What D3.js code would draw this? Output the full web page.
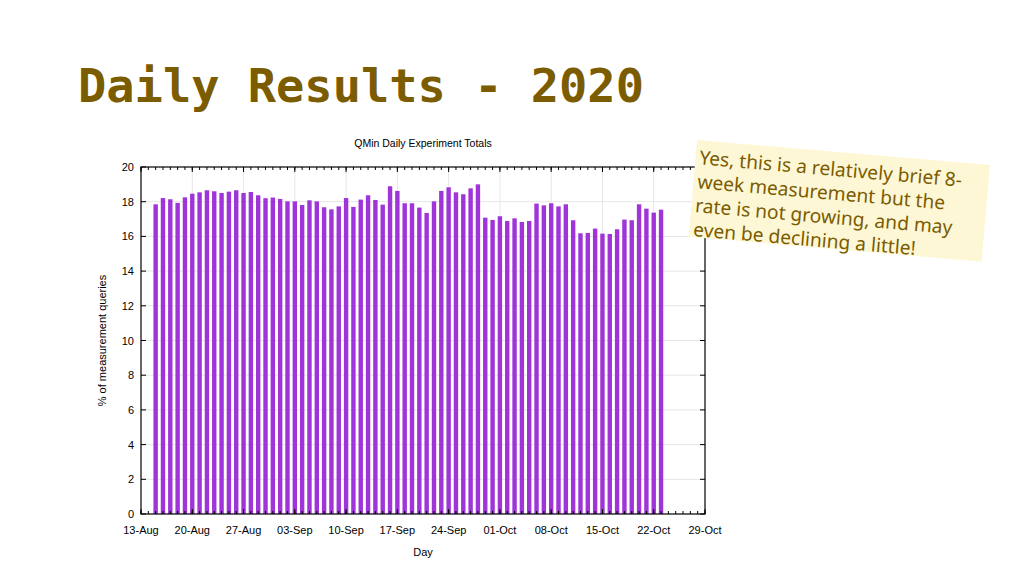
<!DOCTYPE html>
<html><head><meta charset="utf-8">
<script src="https://cdn.jsdelivr.net/npm/d3@7"></script>
<style>html,body{margin:0;padding:0;background:#fff;}svg{display:block;}</style>
</head><body>
<svg id="c" width="1024" height="575"></svg>
<script>
const days = [
"2020-08-15","2020-08-16","2020-08-17","2020-08-18","2020-08-19","2020-08-20","2020-08-21","2020-08-22","2020-08-23","2020-08-24",
"2020-08-25","2020-08-26","2020-08-27","2020-08-28","2020-08-29","2020-08-30","2020-08-31","2020-09-01","2020-09-02","2020-09-03",
"2020-09-04","2020-09-05","2020-09-06","2020-09-07","2020-09-08","2020-09-09","2020-09-10","2020-09-11","2020-09-12","2020-09-13",
"2020-09-14","2020-09-15","2020-09-16","2020-09-17","2020-09-18","2020-09-19","2020-09-20","2020-09-21","2020-09-22","2020-09-23",
"2020-09-24","2020-09-25","2020-09-26","2020-09-27","2020-09-28","2020-09-29","2020-09-30","2020-10-01","2020-10-02","2020-10-03",
"2020-10-04","2020-10-05","2020-10-06","2020-10-07","2020-10-08","2020-10-09","2020-10-10","2020-10-11","2020-10-12","2020-10-13",
"2020-10-14","2020-10-15","2020-10-16","2020-10-17","2020-10-18","2020-10-19","2020-10-20","2020-10-21","2020-10-22","2020-10-23"];
const values = [
17.85,18.21,18.14,17.93,18.25,18.46,18.54,18.66,18.60,18.50,
18.58,18.66,18.50,18.56,18.37,18.20,18.24,18.16,18.02,18.02,
17.81,18.08,18.02,17.68,17.56,17.73,18.21,17.70,18.12,18.37,
18.10,17.83,18.89,18.62,17.91,17.91,17.66,17.35,18.02,18.62,
18.83,18.54,18.43,18.77,19.00,17.08,16.95,17.16,16.89,17.04,
16.83,16.89,17.89,17.79,17.91,17.73,17.85,16.93,16.18,16.20,
16.45,16.16,16.14,16.41,16.97,16.93,17.85,17.60,17.37,17.54];
const xTickDates = ["2020-08-13","2020-08-20","2020-08-27","2020-09-03","2020-09-10","2020-09-17","2020-09-24","2020-10-01","2020-10-08","2020-10-15","2020-10-22","2020-10-29"];
const xTickLabels = ["13-Aug","20-Aug","27-Aug","03-Sep","10-Sep","17-Sep","24-Sep","01-Oct","08-Oct","15-Oct","22-Oct","29-Oct"];
const yTicks = [0,2,4,6,8,10,12,14,16,18,20];
const pageTitle = "Daily Results - 2020";
const chartTitle = "QMin Daily Experiment Totals";
const xLabel = "Day";
const yLabel = "% of measurement queries";
const noteLines = ["Yes, this is a relatively brief 8-","week measurement but the","rate is not growing, and may","even be declining a little!"];

const parse = d3.utcParse("%Y-%m-%d");
const svg = d3.select("#c");
const L = 141, R = 705, T = 167, B = 514;
const x = d3.scaleUtc().domain([parse(xTickDates[0]), parse(xTickDates[xTickDates.length-1])]).range([L, R]);
const y = d3.scaleLinear().domain([0, 20]).range([B, T]);
const font = "'Liberation Sans', Arial, sans-serif";
const purple = "#9f34d8";
const olive = "#7b5c00";

// page title
svg.append("text").attr("x", 78).attr("y", 102)
  .attr("font-family", "'DejaVu Sans Mono', monospace").attr("font-weight", "bold")
  .attr("font-size", 47).attr("fill", olive).text(pageTitle);

// grid
const grid = svg.append("g");
grid.selectAll("line.gy").data(yTicks.slice(1, -1)).join("line")
  .attr("x1", L).attr("x2", R).attr("y1", d => y(d)).attr("y2", d => y(d))
  .attr("stroke", "#e6e6e6").attr("stroke-width", 1);
grid.selectAll("line.gx").data(xTickDates.slice(1, -1)).join("line")
  .attr("x1", d => x(parse(d))).attr("x2", d => x(parse(d))).attr("y1", T).attr("y2", B)
  .attr("stroke", "#e6e6e6").attr("stroke-width", 1);

// bars
const dayW = x(parse("2020-08-14")) - x(parse("2020-08-13"));
const bw = dayW * 0.6;
svg.append("g").selectAll("rect").data(values).join("rect")
  .attr("x", (d, i) => x(parse(days[i])) - bw / 2)
  .attr("width", bw)
  .attr("y", d => y(d))
  .attr("height", d => y(0) - y(d))
  .attr("fill", purple);

// minor day ticks on top and bottom
const allDays = d3.utcDay.range(x.domain()[0], d3.utcDay.offset(x.domain()[1], 1));
const ax = svg.append("g").attr("stroke", "#000").attr("stroke-width", 1);
ax.selectAll("line.mt").data(allDays).join("line")
  .attr("x1", d => x(d)).attr("x2", d => x(d)).attr("y1", T).attr("y2", T + 3);
ax.selectAll("line.mb").data(allDays).join("line")
  .attr("x1", d => x(d)).attr("x2", d => x(d)).attr("y1", B).attr("y2", B - 3);
// major x ticks
ax.selectAll("line.Mt").data(xTickDates).join("line")
  .attr("x1", d => x(parse(d))).attr("x2", d => x(parse(d))).attr("y1", T).attr("y2", T + 5);
ax.selectAll("line.Mb").data(xTickDates).join("line")
  .attr("x1", d => x(parse(d))).attr("x2", d => x(parse(d))).attr("y1", B).attr("y2", B - 5);
// y ticks
ax.selectAll("line.yl").data(yTicks).join("line")
  .attr("x1", L).attr("x2", L + 5).attr("y1", d => y(d)).attr("y2", d => y(d));
ax.selectAll("line.yr").data(yTicks).join("line")
  .attr("x1", R).attr("x2", R - 5).attr("y1", d => y(d)).attr("y2", d => y(d));
// frame
svg.append("rect").attr("x", L).attr("y", T).attr("width", R - L).attr("height", B - T)
  .attr("fill", "none").attr("stroke", "#000").attr("stroke-width", 1.2);

// tick labels
svg.append("g").selectAll("text").data(yTicks).join("text")
  .attr("x", L - 7).attr("y", d => y(d) + 4).attr("text-anchor", "end")
  .attr("font-family", font).attr("font-size", 11).attr("fill", "#000").text(d => d);
svg.append("g").selectAll("text").data(xTickDates).join("text")
  .attr("x", d => x(parse(d))).attr("y", 534).attr("text-anchor", "middle")
  .attr("font-family", font).attr("font-size", 11).attr("fill", "#000").text((d, i) => xTickLabels[i]);

// titles
svg.append("text").attr("x", (L + R) / 2).attr("y", 147).attr("text-anchor", "middle")
  .attr("font-family", font).attr("font-size", 10.5).text(chartTitle);
svg.append("text").attr("x", (L + R) / 2).attr("y", 556).attr("text-anchor", "middle")
  .attr("font-family", font).attr("font-size", 11).text(xLabel);
svg.append("text").attr("transform", `translate(106,${(T + B) / 2}) rotate(-90)`).attr("text-anchor", "middle")
  .attr("font-family", font).attr("font-size", 11).text(yLabel);

// note
const note = svg.append("g").attr("transform", "translate(697,140) rotate(4.9)");
note.append("rect").attr("x", 0).attr("y", 0).attr("width", 294).attr("height", 97).attr("fill", "#fdf7d6");
note.selectAll("text").data(noteLines).join("text")
  .attr("x", 4).attr("y", (d, i) => 24 + i * 24)
  .attr("font-family", "'Noto Sans', 'Open Sans', sans-serif").attr("font-size", 19.2)
  .attr("fill", olive).text(d => d);
</script>
</body></html>
